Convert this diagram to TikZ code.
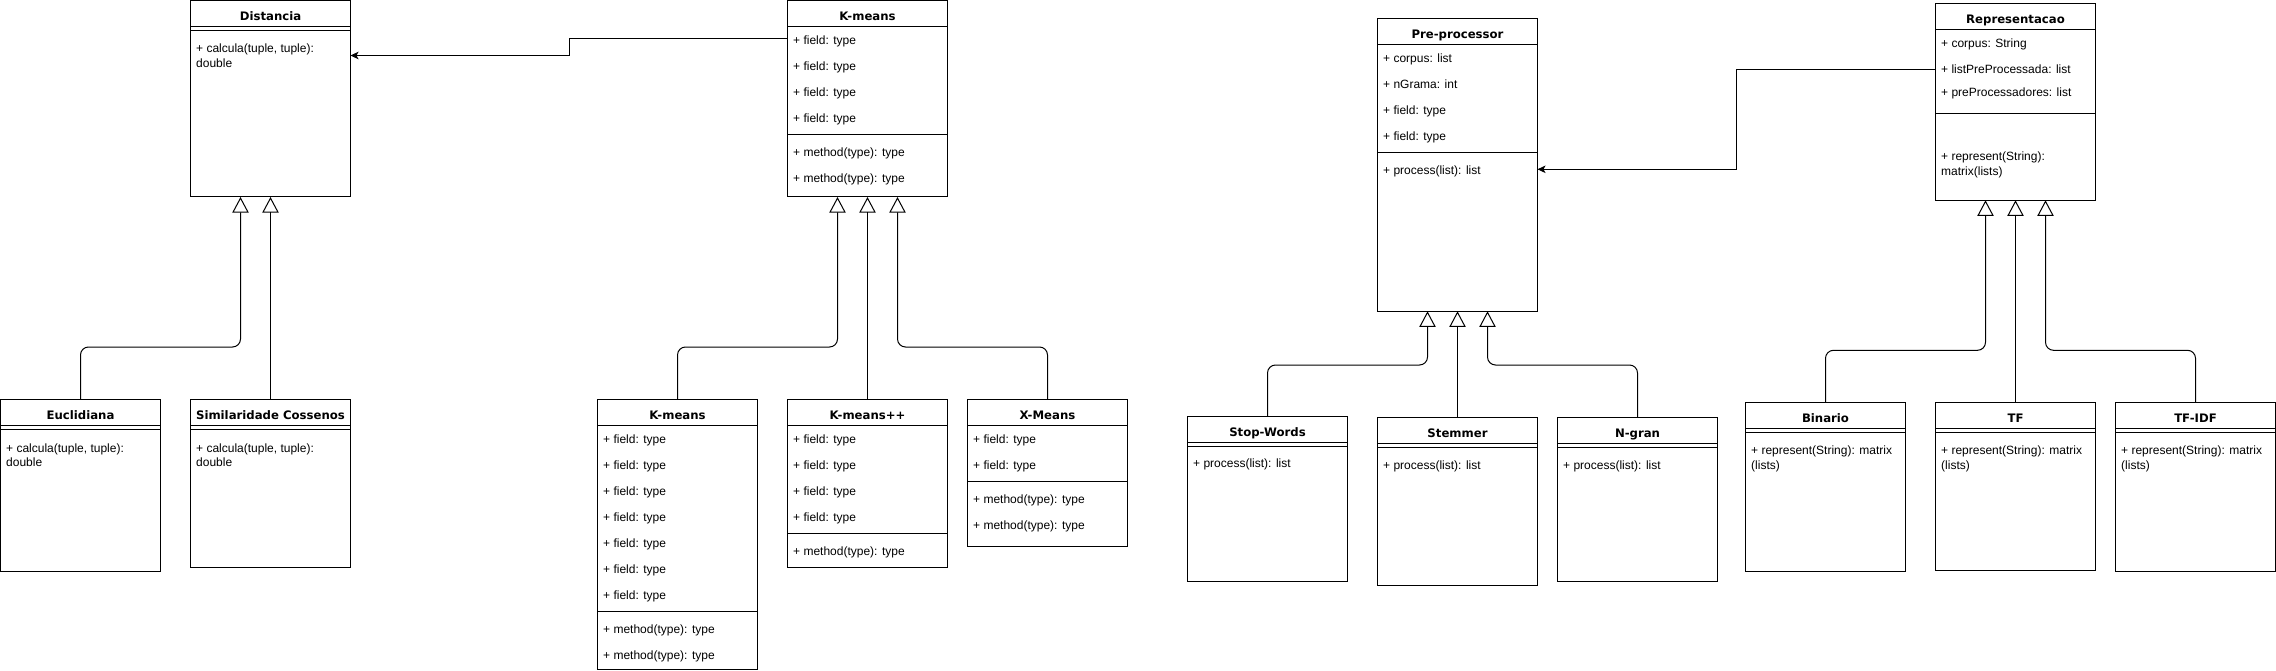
\documentclass[tikz,border=0pt]{standalone}
\usepackage{fontspec}
\setmainfont{Liberation Sans}
\newfontfamily\titlefont{DejaVu Sans}
\usetikzlibrary{arrows.meta,calc}

\begin{document}
\begin{tikzpicture}[x=1pt,y=-1pt,
    classbox/.style={draw, fill=white, line width=1pt, anchor=north west,
        minimum width=160pt, inner sep=0pt, outer sep=0pt},
    classtitle/.style={font={\titlefont\bfseries\fontsize{11.7}{14}\selectfont},
        anchor=base, inner sep=0pt},
    member/.style={font=\fontsize{12}{14.4}\selectfont, anchor=base west, inner sep=0pt},
    classline/.style={line width=1pt},
    inherit/.style={line width=1pt, rounded corners=8pt,
        -{Triangle[open, length=15.6pt, width=16.3pt]}},
    assoc/.style={line width=1pt, -{Stealth[length=8pt, width=7.5pt, inset=2pt]}}]
    \def\classhead#1#2{%
        \node[classtitle] (#1-title) at ($(#1.north)+(0,20)$) {#2};
        \draw[classline] ($(#1.north west)+(0,26)$) -- ($(#1.north east)+(0,26)$);}
    \def\classsep#1#2{%
        \draw[classline] ($(#1.north west)+(0,#2)$) -- ($(#1.north east)+(0,#2)$);}
    \fill[white] (0,0) rectangle (2276,671);

    % Distancia
    \node[classbox, minimum height=196.5pt] (dist) at (190.5,0.5) {};
    \classhead{dist}{Distancia}
    \classsep{dist}{30}
    \node[member] (dist-m1) at ($(dist.north west)+(5.5,52.5)$) {+ calcula(tuple, tuple):};
    \node[member] (dist-m2) at ($(dist.north west)+(5.5,67)$) {double};

    \node[classbox, minimum height=171.5pt] (eucl) at (0.5,399.5) {};
    \classhead{eucl}{Euclidiana}
    \classsep{eucl}{30}
    \node[member] (eucl-m1) at ($(eucl.north west)+(5.5,52.5)$) {+ calcula(tuple, tuple):};
    \node[member] (eucl-m2) at ($(eucl.north west)+(5.5,67)$) {double};

    \node[classbox, minimum height=167.5pt] (cos) at (190.5,399.5) {};
    \classhead{cos}{Similaridade Cossenos}
    \classsep{cos}{30}
    \node[member] (cos-m1) at ($(cos.north west)+(5.5,52.5)$) {+ calcula(tuple, tuple):};
    \node[member] (cos-m2) at ($(cos.north west)+(5.5,67)$) {double};

    % K-means
    \node[classbox, minimum height=196.5pt] (kmeans) at (787.5,0.5) {};
    \classhead{kmeans}{K-means}
    \foreach \i in {0,...,3}
        \node[member] (kmeans-f\i) at ($(kmeans.north west)+(5.5,44+26*\i)$) {+ field: type};
    \classsep{kmeans}{134}
    \foreach \i in {0,1}
        \node[member] (kmeans-m\i) at ($(kmeans.north west)+(5.5,156+26*\i)$) {+ method(type): type};

    \node[classbox, minimum height=270pt] (km) at (597.5,399.5) {};
    \classhead{km}{K-means}
    \foreach \i in {0,...,6}
        \node[member] (km-f\i) at ($(km.north west)+(5.5,44+26*\i)$) {+ field: type};
    \classsep{km}{212}
    \foreach \i in {0,1}
        \node[member] (km-m\i) at ($(km.north west)+(5.5,234+26*\i)$) {+ method(type): type};

    \node[classbox, minimum height=168pt] (kmpp) at (787.5,399.5) {};
    \classhead{kmpp}{K-means++}
    \foreach \i in {0,...,3}
        \node[member] (kmpp-f\i) at ($(kmpp.north west)+(5.5,44+26*\i)$) {+ field: type};
    \classsep{kmpp}{134}
    \node[member] (kmpp-m0) at ($(kmpp.north west)+(5.5,156)$) {+ method(type): type};

    \node[classbox, minimum height=147pt] (xm) at (967.5,399.5) {};
    \classhead{xm}{X-Means}
    \foreach \i in {0,1}
        \node[member] (xm-f\i) at ($(xm.north west)+(5.5,44+26*\i)$) {+ field: type};
    \classsep{xm}{82}
    \foreach \i in {0,1}
        \node[member] (xm-m\i) at ($(xm.north west)+(5.5,104+26*\i)$) {+ method(type): type};

    % Pre-processor
    \node[classbox, minimum height=293pt] (pre) at (1377.5,18.3) {};
    \classhead{pre}{Pre-processor}
    \foreach \txt [count=\i from 0] in {+ corpus: list, + nGrama: int, + field: type, + field: type}
        \node[member] (pre-f\i) at ($(pre.north west)+(5.5,44+26*\i)$) {\txt};
    \classsep{pre}{134}
    \node[member] (pre-m0) at ($(pre.north west)+(5.5,156)$) {+ process(list): list};

    \node[classbox, minimum height=165.3pt] (stop) at (1187.5,416) {};
    \classhead{stop}{Stop-Words}
    \classsep{stop}{30}
    \node[member] (stop-m0) at ($(stop.north west)+(5.5,51.7)$) {+ process(list): list};

    \node[classbox, minimum height=168pt] (stem) at (1377.5,417.3) {};
    \classhead{stem}{Stemmer}
    \classsep{stem}{30}
    \node[member] (stem-m0) at ($(stem.north west)+(5.5,51.7)$) {+ process(list): list};

    \node[classbox, minimum height=164pt] (ngran) at (1557.5,417.3) {};
    \classhead{ngran}{N-gran}
    \classsep{ngran}{30}
    \node[member] (ngran-m0) at ($(ngran.north west)+(5.5,51.7)$) {+ process(list): list};

    % Representacao
    \node[classbox, minimum height=197pt] (rep) at (1935.5,3.3) {};
    \classhead{rep}{Representacao}
    \node[member] (rep-f0) at ($(rep.north west)+(5.5,44)$) {+ corpus: String};
    \node[member] (rep-f1) at ($(rep.north west)+(5.5,70)$) {+ listPreProcessada: list};
    \node[member] (rep-f2) at ($(rep.north west)+(5.5,93.5)$) {+ preProcessadores: list};
    \classsep{rep}{110}
    \node[member] (rep-m1) at ($(rep.north west)+(5.5,157.5)$) {+ represent(String):};
    \node[member] (rep-m2) at ($(rep.north west)+(5.5,172)$) {matrix(lists)};

    \node[classbox, minimum height=168.6pt] (bin) at (1745.5,402.7) {};
    \classhead{bin}{Binario}
    \classsep{bin}{30}
    \node[member] (bin-m1) at ($(bin.north west)+(5.5,51.8)$) {+ represent(String): matrix};
    \node[member] (bin-m2) at ($(bin.north west)+(5.5,66.3)$) {(lists)};

    \node[classbox, minimum height=167.6pt] (tf) at (1935.5,402.7) {};
    \classhead{tf}{TF}
    \classsep{tf}{30}
    \node[member] (tf-m1) at ($(tf.north west)+(5.5,51.8)$) {+ represent(String): matrix};
    \node[member] (tf-m2) at ($(tf.north west)+(5.5,66.3)$) {(lists)};

    \node[classbox, minimum height=168.6pt] (tfidf) at (2115.5,402.7) {};
    \classhead{tfidf}{TF-IDF}
    \classsep{tfidf}{30}
    \node[member] (tfidf-m1) at ($(tfidf.north west)+(5.5,51.8)$) {+ represent(String): matrix};
    \node[member] (tfidf-m2) at ($(tfidf.north west)+(5.5,66.3)$) {(lists)};

    % heranca
    \draw[inherit] (eucl.north) -- ++(0,-52.5) -| ($(dist.south)+(-30,0)$);
    \draw[inherit] (cos.north) -- (dist.south);
    \draw[inherit] (km.north) -- ++(0,-52.5) -| ($(kmeans.south)+(-30,0)$);
    \draw[inherit] (kmpp.north) -- (kmeans.south);
    \draw[inherit] (xm.north) -- ++(0,-52.5) -| ($(kmeans.south)+(30,0)$);
    \draw[inherit] (stop.north) -- ++(0,-51) -| ($(pre.south)+(-30,0)$);
    \draw[inherit] (stem.north) -- (pre.south);
    \draw[inherit] (ngran.north) -- ++(0,-52.3) -| ($(pre.south)+(30,0)$);
    \draw[inherit] (bin.north) -- ++(0,-52.4) -| ($(rep.south)+(-30,0)$);
    \draw[inherit] (tf.north) -- (rep.south);
    \draw[inherit] (tfidf.north) -- ++(0,-52.4) -| ($(rep.south)+(30,0)$);

    % associacoes
    \draw[assoc] ($(kmeans.north west)+(0,38.5)$) -- ++(-218,0) |- ($(dist.north east)+(0,55)$);
    \draw[assoc] ($(rep.north west)+(0,66)$) -- ++(-199,0) |- ($(pre.north east)+(0,151)$);
\end{tikzpicture}
\end{document}
